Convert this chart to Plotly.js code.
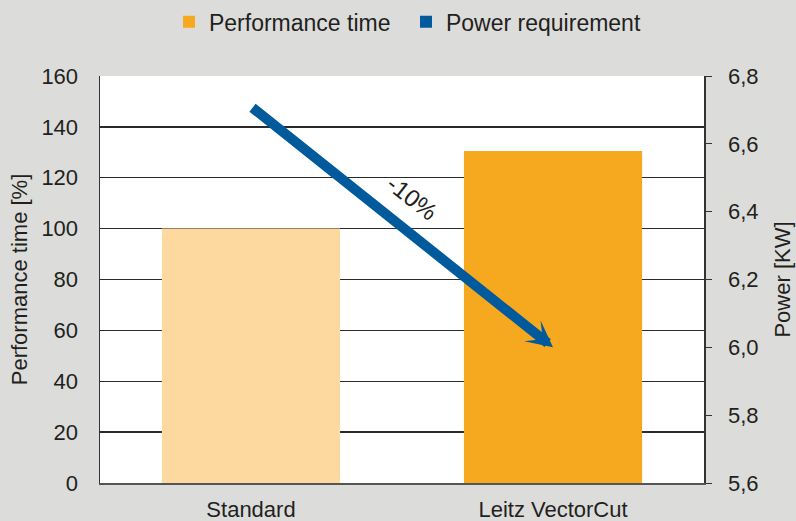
<!DOCTYPE html>
<html>
<head>
<meta charset="utf-8">
<script src="https://cdn.plot.ly/plotly-3.0.1.min.js"></script>
<style>html,body{margin:0;padding:0;background:#dcdddb;}#chart{width:796px;height:521px;}</style>
</head>
<body>
<div id="chart"></div>
<script>
// Data
const categories = ["Standard", "Leitz VectorCut"];
const performanceTime = [100, 130.5];           // [%]
const powerRequirement = [6.71, 6.0];           // [KW]
const barColors = ["#fdd89f", "#f6a81f"];
const changeLabel = "-10%";

const FONT = "Liberation Sans, Arial, Helvetica, sans-serif";
const TXT = "#231f20";

const traces = [
  {
    type: "bar",
    name: "Performance time",
    x: [categories[1]],
    y: [performanceTime[1]],
    marker: {color: barColors[1]},
    width: 0.59,
    showlegend: true,
    hoverinfo: "skip"
  },
  {
    type: "bar",
    name: "Performance time",
    x: [categories[0]],
    y: [performanceTime[0]],
    marker: {color: barColors[0]},
    width: 0.59,
    showlegend: false,
    hoverinfo: "skip"
  },
  {
    type: "bar",
    name: "Power requirement",
    x: [null],
    y: [null],
    yaxis: "y2",
    marker: {color: "#005a9b"},
    showlegend: true,
    hoverinfo: "skip"
  }
];

const layout = {
  width: 796,
  height: 521,
  paper_bgcolor: "#dcdddb",
  plot_bgcolor: "#ffffff",
  separators: ",.",
  margin: {l: 100, r: 92, t: 76, b: 38, pad: 0, autoexpand: false},
  font: {family: FONT, size: 22, color: TXT},
  barmode: "overlay",
  showlegend: true,
  legend: {
    orientation: "h",
    xref: "container", yref: "container",
    x: 0.2123, xanchor: "left",
    y: 0.958, yanchor: "middle",
    entrywidth: 192,
    entrywidthmode: "pixels",
    font: {family: FONT, size: 23, color: TXT},
    bgcolor: "rgba(0,0,0,0)",
    traceorder: "normal"
  },
  xaxis: {
    type: "category",
    categoryorder: "array",
    categoryarray: categories,
    showline: true,
    linecolor: "#555555",
    linewidth: 1.5,
    showgrid: false,
    ticks: "",
    ticklabelstandoff: 6,
    tickfont: {family: FONT, size: 22, color: TXT},
    fixedrange: true
  },
  yaxis: {
    range: [0, 160],
    dtick: 20,
    showline: true,
    linecolor: "#333333",
    linewidth: 1.5,
    showgrid: true,
    gridcolor: "#2a2a2a",
    gridwidth: 1.4,
    zeroline: false,
    ticks: "",
    ticklabelstandoff: 16,
    tickfont: {family: FONT, size: 22, color: TXT},
    title: {text: "Performance time [%]", standoff: 7, font: {family: FONT, size: 22, color: TXT}},
    fixedrange: true
  },
  yaxis2: {
    overlaying: "y",
    side: "right",
    range: [5.6, 6.8],
    dtick: 0.2,
    tickformat: ".1f",
    showline: true,
    linecolor: "#333333",
    linewidth: 1.5,
    showgrid: false,
    zeroline: false,
    ticks: "outside",
    ticklen: 6,
    tickwidth: 1,
    tickcolor: "#333333",
    ticklabelstandoff: 12,
    tickfont: {family: FONT, size: 22, color: TXT},
    title: {text: "Power [KW]", standoff: 17, font: {family: FONT, size: 22, color: TXT}},
    fixedrange: true
  },
  annotations: [
    {
      x: categories[1], y: powerRequirement[1], xref: "x", yref: "y2",
      ax: categories[0], ay: powerRequirement[0], axref: "x", ayref: "y2",
      text: "",
      showarrow: true,
      arrowhead: 3,
      arrowwidth: 10,
      arrowsize: 0.44,
      arrowcolor: "#005a9b",
      standoff: 0,
      startstandoff: 0
    },
    {
      xref: "paper", yref: "paper",
      x: 0.516, y: 0.776,
      text: changeLabel,
      showarrow: false,
      textangle: 38,
      font: {family: FONT, size: 24, color: TXT}
    }
  ]
};

Plotly.newPlot("chart", traces, layout, {displayModeBar: false, staticPlot: true});
</script>
</body>
</html>
